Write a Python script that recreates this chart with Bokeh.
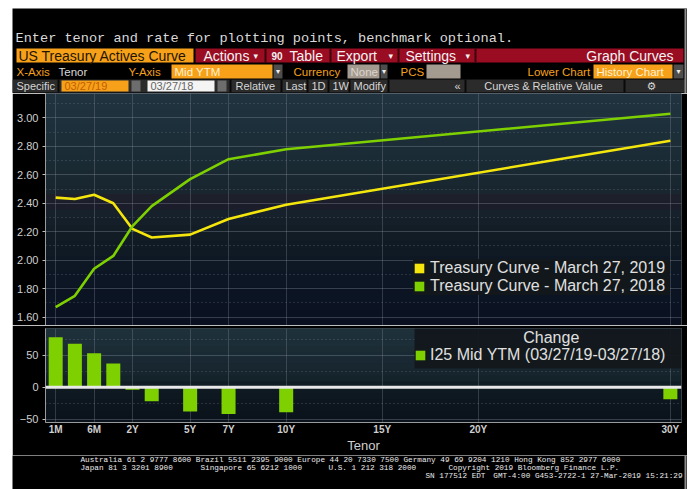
from bokeh.plotting import figure
from bokeh.models import (Range1d, FixedTicker, Span, Legend, LegendItem, Label,
                          BoxAnnotation, NumeralTickFormatter)
from bokeh.layouts import column
from bokeh.core.properties import value
from bokeh.embed import file_html
from bokeh.resources import INLINE

# ---------------- data ----------------
tenors = ["1M", "3M", "6M", "1Y", "2Y", "3Y", "5Y", "7Y", "10Y", "30Y"]
tenor_axis = [-2, -1, 0, 1, 2, 3, 5, 7, 10, 30]          # Bloomberg stretched tenor axis
yield_2019 = [2.44, 2.43, 2.46, 2.40, 2.22, 2.16, 2.18, 2.29, 2.39, 2.84]
yield_2018 = [1.67, 1.75, 1.94, 2.03, 2.24, 2.38, 2.57, 2.71, 2.78, 3.03]
change_bp = [78, 68, 53, 37, -4, -22, -38, -42, -39, -19]

tick_pos = [-2, 0, 2, 5, 7, 10, 15, 20, 30]
tick_labels = ["1M", "6M", "2Y", "5Y", "7Y", "10Y", "15Y", "20Y", "30Y"]
main_yticks = [1.6, 1.8, 2.0, 2.2, 2.4, 2.6, 2.8, 3.0]
main_minor = [1.7, 1.9, 2.1, 2.3, 2.5, 2.7, 2.9, 3.1]
chg_yticks = [-50, 0, 50]
chg_minor = [-25, 25, 75]

series_2019 = "Treasury Curve - March 27, 2019"
series_2018 = "Treasury Curve - March 27, 2018"
change_name = "I25 Mid YTM (03/27/19-03/27/18)"

YELLOW = "#f4e60c"
GREEN = "#7ed000"
ORANGE = "#f7a11a"
RED = "#990c22"
LEG_BG = "#12171b"
FONT = "Liberation Sans"
MONO = "Liberation Mono"
W = 675
X0, X1 = 12, 687
NAN = float("nan")


def blank(h, y_top, y_bot):
    f = figure(width=W, height=h, x_range=Range1d(X0, X1), y_range=Range1d(y_bot, y_top),
               toolbar_location=None, output_backend="svg", min_border=0,
               min_border_left=0, min_border_right=0, min_border_top=0, min_border_bottom=0,
               x_axis_location=None, y_axis_location=None,
               background_fill_color="black", border_fill_color="black",
               outline_line_color=None)
    f.grid.visible = False
    return f


def txt(f, xs, ys, texts, color, size, font=FONT, align="left", style="normal"):
    f.text(x=xs, y=ys, text=texts, text_color=color, text_font=value(font),
           text_font_size=value(size), text_align=align, text_baseline="middle",
           text_font_style=style)


def boxes(f, l, r, t, b, colors):
    f.quad(left=l, right=r, top=t, bottom=b, fill_color=colors, line_color=None)


# ---------------- header ----------------
hdr = blank(85, 8, 93)
txt(hdr, [15], [38], ["Enter tenor and rate for plotting points, benchmark optional."],
    "#d9d9d9", "13.6px", font=MONO)
# row 2
boxes(hdr, [16, 195], [193, 683], [48, 48], [62, 62], [ORANGE, RED])
hdr.segment(x0=[265, 330, 398, 475], y0=[48] * 4, x1=[265, 330, 398, 475], y1=[62] * 4,
            line_color="#3c0008", line_width=2)
txt(hdr, [18], [55], ["US Treasury Actives Curve"], "#241500", "14px")
txt(hdr, [203, 289, 336, 405], [55] * 4, ["Actions", "Table", "Export", "Settings"], "#f2f2f2", "14px")
txt(hdr, [673], [55], ["Graph Curves"], "#f2f2f2", "14px", align="right")
txt(hdr, [253, 388, 465], [55] * 3, ["▾", "▾", "▾"], "#f2f2f2", "9px", font="DejaVu Sans")
txt(hdr, [271], [55], ["90"], "#f2f2f2", "10px", style="bold")
# row 3
boxes(hdr, [171, 273, 347, 380, 426, 593, 673], [272, 282, 379, 387, 460, 672, 683],
      [64] * 7, [78] * 7,
      [ORANGE, "#4d4d4d", "#a39a90", "#4d4d4d", "#a39a90", ORANGE, "#4d4d4d"])
txt(hdr, [16, 128, 293, 400, 527], [71] * 5, ["X-Axis", "Y-Axis", "Currency", "PCS", "Lower Chart"],
    ORANGE, "11.5px")
txt(hdr, [58], [71], ["Tenor"], "#d9d9d9", "11.5px")
txt(hdr, [174, 596], [71] * 2, ["Mid YTM", "History Chart"], "#fff1d0", "11.5px")
txt(hdr, [350], [71], ["None"], "#dcd4cc", "11.5px")
txt(hdr, [277.5, 383.5, 678], [71] * 3, ["▾", "▾", "▾"], "#eeeeee", "8px", font="DejaVu Sans", align="center")
# row 4
boxes(hdr, [12], [685], [79], [92], ["#2b2b2b"])
hdr.segment(x0=[58, 230, 281, 307, 328, 349, 388, 465, 624], y0=[79] * 9,
            x1=[58, 230, 281, 307, 328, 349, 388, 465, 624], y1=[92] * 9,
            line_color="#0a0a0a", line_width=2)
boxes(hdr, [61, 131, 147, 217], [128, 140, 214, 226], [80] * 4, [91] * 4,
      [ORANGE, "#6d6d6d", "#f4f4f4", "#6d6d6d"])
txt(hdr, [16, 235, 285, 311, 332, 353], [85.5] * 6,
    ["Specific", "Relative", "Last", "1D", "1W", "Modify"], "#d6d6d6", "11px")
txt(hdr, [64], [85.5], ["03/27/19"], "#c25e00", "11px")
txt(hdr, [150], [85.5], ["03/27/18"], "#666666", "11px")
txt(hdr, [457, 543], [85.5] * 2, ["«", "Curves & Relative Value"], "#d6d6d6", "11px", align="center")
txt(hdr, [651], [85.5], ["⚙"], "#d6d6d6", "11px", font="DejaVu Sans", align="center")
# thin grey window border on the right
hdr.segment(x0=[685], y0=[8], x1=[685], y1=[93], line_color="#8c8c8c", line_width=2)


# ---------------- gradient background helper ----------------
def hex2rgb(h):
    return tuple(int(h[i:i + 2], 16) for i in (1, 3, 5))


def interp(stops, f):
    for (f0, c0), (f1, c1) in zip(stops[:-1], stops[1:]):
        if f0 <= f <= f1:
            t = (f - f0) / (f1 - f0) if f1 > f0 else 0
            a, b = hex2rgb(c0), hex2rgb(c1)
            return "#%02x%02x%02x" % tuple(int(round(a[k] + (b[k] - a[k]) * t)) for k in range(3))
    return stops[-1][1]


def bands(p, stops, lo, hi, n=30):
    step = (hi - lo) / n
    for i in range(n):
        col = interp(stops, (i + 0.5) / n)
        p.add_layout(BoxAnnotation(bottom=lo + step * i, top=lo + step * (i + 1) + step * 0.1,
                                   fill_color=col, fill_alpha=1, line_color=None, level="image"))


# ---------------- main chart ----------------
xr = Range1d(-2.53, 30.58)
main = figure(width=W, height=232, x_range=xr, y_range=Range1d(1.541, 3.172),
              toolbar_location=None, output_backend="svg", x_axis_location=None,
              min_border_left=33, min_border_right=6, min_border_top=0, min_border_bottom=0,
              background_fill_color="#13202a", border_fill_color="black", outline_line_color=None)
bands(main, [(0.0, "#0a1020"), (0.2, "#0c1624"), (0.4, "#111c25"), (0.48, "#15212b"),
             (0.53, "#1f1c29"), (0.58, "#19262f"), (0.75, "#1b2c36"), (1.0, "#20343f")],
      1.541, 3.172)
main.yaxis.ticker = FixedTicker(ticks=main_yticks, minor_ticks=main_minor)
main.yaxis.formatter = NumeralTickFormatter(format="0.00")
for ax in [main.yaxis[0]]:
    ax.axis_line_color = "#9a9a9a"
    ax.major_tick_line_color = "#bdbdbd"
    ax.major_tick_out = 3
    ax.major_tick_in = 0
    ax.minor_tick_line_color = None
    ax.major_label_standoff = 3
    ax.major_label_text_color = "#cfcfcf"
    ax.major_label_text_font = FONT
    ax.major_label_text_font_size = "11px"
main.ygrid.grid_line_color = "#8a96a0"
main.ygrid.grid_line_alpha = 0.35
main.ygrid.minor_grid_line_color = "#8a96a0"
main.ygrid.minor_grid_line_alpha = 0.45
main.ygrid.minor_grid_line_dash = "1 3"
main.xgrid.ticker = FixedTicker(ticks=tick_pos)
main.xgrid.grid_line_color = "#8a96a0"
main.xgrid.grid_line_alpha = 0.3

main.line(tenor_axis, yield_2019, line_color=YELLOW, line_width=2.6)
main.line(tenor_axis, yield_2018, line_color=GREEN, line_width=2.6)
# square legend keys (placeholder renderers, nothing drawn in the plot)
k19 = main.quad(left=[NAN], right=[NAN], top=[NAN], bottom=[NAN], fill_color=YELLOW, line_color=None)
k18 = main.quad(left=[NAN], right=[NAN], top=[NAN], bottom=[NAN], fill_color=GREEN, line_color=None)
leg = Legend(items=[LegendItem(label=series_2019, renderers=[k19]),
                    LegendItem(label=series_2018, renderers=[k18])],
             location=(368, 30), orientation="vertical",
             background_fill_color=LEG_BG, background_fill_alpha=0.95,
             border_line_color=None, label_text_color="#e0e0e0", label_text_font=FONT,
             label_text_font_size="16px", glyph_width=12, glyph_height=12, label_height=17,
             label_width=240, label_standoff=5, spacing=0, padding=7, margin=0)
main.add_layout(leg)

# ---------------- change chart ----------------
low = figure(width=W, height=130, x_range=xr, y_range=Range1d(-55.2, 91.7),
             toolbar_location=None, output_backend="svg",
             min_border_left=33, min_border_right=6, min_border_top=3, min_border_bottom=33,
             background_fill_color="#13202a", border_fill_color="black", outline_line_color=None)
bands(low, [(0.0, "#0a111a"), (0.37, "#0f1a22"), (0.5, "#16242d"), (1.0, "#1f323c")], -55.2, 91.7, n=16)
low.yaxis.ticker = FixedTicker(ticks=chg_yticks, minor_ticks=chg_minor)
low.xaxis.ticker = FixedTicker(ticks=tick_pos)
low.xaxis.major_label_overrides = {p: l for p, l in zip(tick_pos, tick_labels)}
low.xaxis.axis_label = "Tenor"
for ax in [low.yaxis[0], low.xaxis[0]]:
    ax.axis_line_color = "#9a9a9a"
    ax.major_tick_line_color = "#bdbdbd"
    ax.major_tick_out = 3
    ax.major_tick_in = 0
    ax.minor_tick_line_color = None
    ax.major_label_standoff = 3
    ax.major_label_text_color = "#cfcfcf"
    ax.major_label_text_font = FONT
    ax.major_label_text_font_size = "11px"
low.xaxis.major_tick_line_color = None
low.xaxis.major_tick_out = 0
low.xaxis.major_label_standoff = 1
low.xaxis.major_label_text_font_size = "10px"
low.xaxis.major_label_text_font_style = "bold"
low.xaxis.axis_label_text_font = FONT
low.xaxis.axis_label_text_font_size = "13px"
low.xaxis.axis_label_text_font_style = "normal"
low.xaxis.axis_label_text_color = "#cfcfcf"
low.xaxis.axis_label_standoff = 0
low.ygrid.grid_line_color = "#8a96a0"
low.ygrid.grid_line_alpha = 0.35
low.ygrid.minor_grid_line_color = "#8a96a0"
low.ygrid.minor_grid_line_alpha = 0.45
low.ygrid.minor_grid_line_dash = "1 3"
low.xgrid.grid_line_color = "#8a96a0"
low.xgrid.grid_line_alpha = 0.3

bars = low.vbar(x=tenor_axis, top=change_bp, bottom=0, width=0.73, fill_color=GREEN, line_color=None)
low.add_layout(Span(location=0, dimension="width", line_color="#e8e8e8", line_width=3))
# legend panel of the change chart (box behind legend + centred "Change" heading)
low.add_layout(BoxAnnotation(left=16.68, bottom=29.2, fill_color=LEG_BG, fill_alpha=0.95, line_color=None))
leg2 = Legend(items=[LegendItem(label=change_name, renderers=[bars])],
              location=(369, 58), background_fill_alpha=0,
              border_line_color=None, label_text_color="#e0e0e0", label_text_font=FONT,
              label_text_font_size="16px", glyph_width=12, glyph_height=12, label_height=17,
              label_width=240, label_standoff=4, spacing=0, padding=4, margin=0)
low.add_layout(leg2)
low.add_layout(Label(x=23.8, y=77, text="Change", text_align="center", text_baseline="middle",
                     text_color="#e0e0e0", text_font=FONT, text_font_size="16px", level="overlay"))

# ---------------- footer ----------------
ft = blank(34, 455, 489)
FS = "7.7px"
txt(ft, [80], [459], ["Australia 61 2 9777 8600 Brazil 5511 2395 9000 Europe 44 20 7330 7500 Germany 49 69 9204 1210 Hong Kong 852 2977 6000"],
    "#ececec", FS, font=MONO)
txt(ft, [80, 200, 328, 448], [467] * 4,
    ["Japan 81 3 3201 8900", "Singapore 65 6212 1000", "U.S. 1 212 318 2000",
     "Copyright 2019 Bloomberg Finance L.P."], "#ececec", FS, font=MONO)
txt(ft, [425], [475], ["SN 177512 EDT"], "#ececec", FS, font=MONO)
txt(ft, [682], [475], ["GMT-4:00 G453-2722-1 27-Mar-2019 15:21:29"], "#ececec", FS, font=MONO, align="right")
ft.segment(x0=[685], y0=[455], x1=[685], y1=[489], line_color="#8c8c8c", line_width=2)

charts = column(main, low, spacing=0)
layout = column(hdr, charts, ft, spacing=0, margin=(8, 0, 0, 12))
open("out.html", "w").write(file_html(layout, INLINE, title="US Treasury Actives Curve"))
